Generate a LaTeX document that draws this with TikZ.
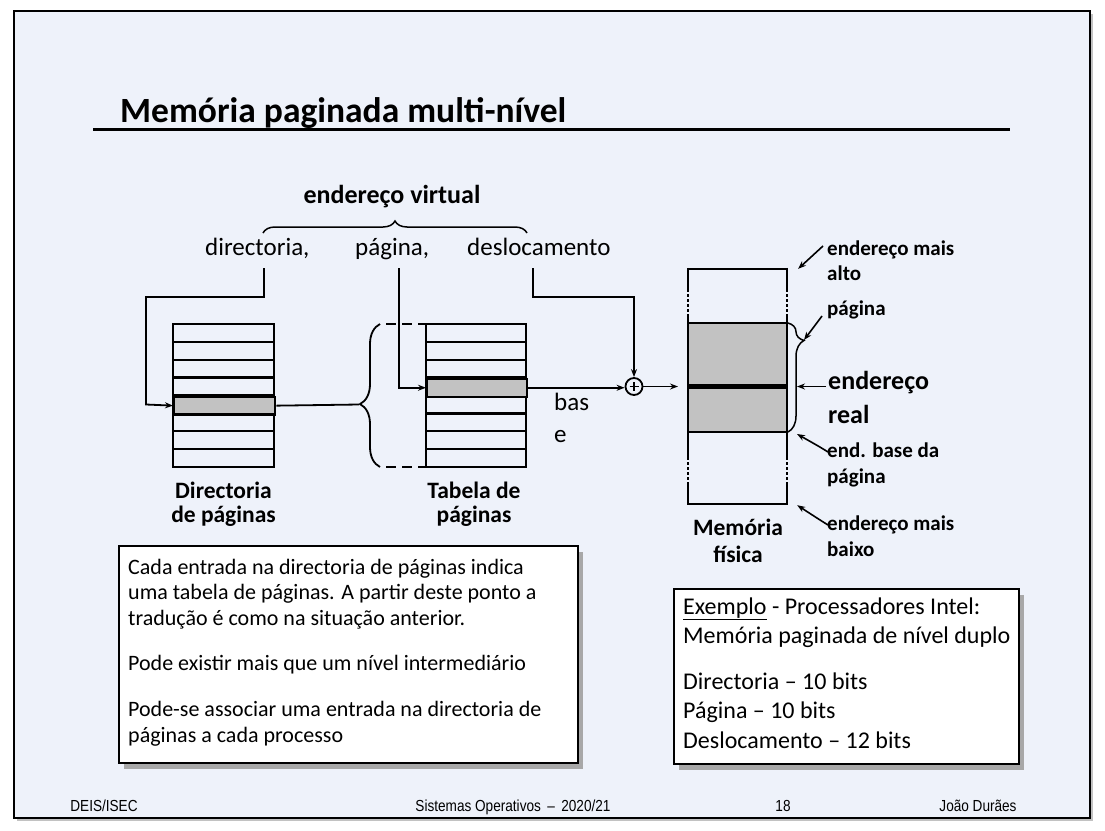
\documentclass[tikz,border=0pt]{standalone}
\usepackage{fontspec}
\setmainfont{Carlito}
\newfontfamily\footfont[FakeStretch=0.85]{Liberation Sans}
\usetikzlibrary{arrows.meta,decorations.pathreplacing,calc}
\definecolor{bgc}{HTML}{EEF2FA}
\definecolor{cellgray}{HTML}{C2C2C2}
\definecolor{shadowgray}{HTML}{A8A8A8}
\begin{document}
\begin{tikzpicture}[x=1pt,y=-1pt,
  tbl/.style={line width=2.4pt},
  conn/.style={line width=1.8pt},
  arr/.style={conn,-{Stealth[length=8pt,width=6pt]}},
  larr/.style={line width=1.6pt,-{Stealth[length=8pt,width=6pt]}},
  selrow/.style={draw,tbl,fill=cellgray,minimum width=101pt,minimum height=17.9pt,inner sep=0pt,anchor=north west},
  txt/.style={anchor=base west,inner sep=0pt,font=\fontsize{25}{30}\selectfont},
  captxt/.style={anchor=base,inner sep=0pt,font=\bfseries\fontsize{23.5}{28}\selectfont},
  lab/.style={anchor=base west,inner sep=0pt,font=\bfseries\fontsize{21}{24}\selectfont},
  body/.style={anchor=base west,inner sep=0pt,font=\fontsize{22}{25}\selectfont},
  bodyb/.style={anchor=base west,inner sep=0pt,font=\fontsize{24}{28}\selectfont},
  foot/.style={anchor=base,inner sep=0pt,font=\footfont\fontsize{16}{19}\selectfont},
  boxst/.style={draw,line width=2pt,fill=white}
]
\useasboundingbox (0,0) rectangle (1105,830);
\fill[white] (0,0) rectangle (1105,830);
% slide frame
\fill[shadowgray!70] (17,14) rectangle (1093,821);
\draw[line width=2.5pt,fill=bgc] (14,11) rectangle (1090,818);

% title
\node[anchor=base west,inner sep=0pt,font=\bfseries\fontsize{35.5}{40}\selectfont] (title) at (120,122) {Memória paginada multi-nível};
\draw[line width=3pt] (93,129) -- (1010,129);

% virtual address
\node[anchor=base,inner sep=0pt,font=\bfseries\fontsize{26}{30}\selectfont] (ev) at (392,203) {endereço virtual};
\draw[decorate,decoration={brace,amplitude=12pt},line width=1.5pt] (263,233) -- (527,233);
\node[txt] (dir) at (205,255) {directoria,};
\node[txt] (pag) at (355,255) {página,};
\node[txt] (des) at (467,255) {deslocamento};
\coordinate (d0) at (264,268);
\coordinate (p0) at (399,268);
\coordinate (s0) at (533,268);

% directory table
\draw[tbl] (173,324) rectangle (274,467);
\foreach \i in {1,...,7} \draw[tbl] (173,{324+\i*17.875}) -- (274,{324+\i*17.875});
\node[selrow] (dsel) at (173,395.5) {};
\node[captxt] (dcap1) at (223.5,498) {Directoria};
\node[captxt] (dcap2) at (223.5,522) {de páginas};

% page table
\draw[tbl] (426,324) rectangle (526,467);
\foreach \i in {1,...,7} \draw[tbl] (426,{324+\i*17.875}) -- (526,{324+\i*17.875});
\node[selrow,minimum width=100pt] (tsel) at (426,377.6) {};
\node[captxt] (tcap1) at (474,498) {Tabela de};
\node[captxt] (tcap2) at (474,522) {páginas};

% brace between
\coordinate (btip) at (359,404.5);
\draw[decorate,decoration={brace,amplitude=20pt,aspect=0.44},line width=1.8pt] (380,467) -- (380,324);
\draw[conn,dash pattern=on 10pt off 6pt] (386,324) -- (426,324);
\draw[conn,dash pattern=on 10pt off 6pt] (386,467) -- (426,467);

% connectors
\draw[arr] (d0) -- (264,297) -| (146,404.5) -- (dsel.west);
\draw[conn] (dsel.east) -- (btip);
\draw[arr] (p0) -- (p0 |- tsel.west) -- (tsel.west);

% adder
\node[circle,draw,conn,inner sep=0pt,minimum size=17pt] (plus) at (634,386.5) {};
\draw[line width=1.4pt] ($(plus.center)+(-4.5,0)$) -- ($(plus.center)+(4.5,0)$);
\draw[line width=1.4pt] ($(plus.center)+(0,-4.5)$) -- ($(plus.center)+(0,4.5)$);
\draw[arr] (tsel.east) -- (tsel.east -| plus.west);
\draw[arr] (s0) -- (533,297) -| (plus.north);
\node[txt] (bas1) at (554,410) {bas};
\node[txt] (bas2) at (554,442) {e};
\coordinate (memin) at (678,386.5);
\draw[arr] (plus.east) -- (memin);

% physical memory
\node[minimum width=99pt,minimum height=235pt,inner sep=0pt] (mem) at (737.5,386.5) {};
\fill[cellgray] (688,323) rectangle (787,432);
\draw[tbl] (688,323) -- (787,323);
\draw[tbl] (688,432) -- (787,432);
\draw[line width=5pt] (688,386.5) -- (787,386.5);
\draw[tbl] (mem.north west) -- (mem.north east);
\draw[tbl] (mem.south west) -- (mem.south east);
\foreach \x in {688,787}{
  \draw[tbl] (\x,267.8) -- (\x,289);
  \draw[tbl,dash pattern=on 2.5pt off 2.5pt] (\x,289) -- (\x,314);
  \draw[tbl] (\x,314) -- (\x,457);
  \draw[tbl,dash pattern=on 2.5pt off 2.5pt] (\x,457) -- (\x,485);
  \draw[tbl] (\x,485) -- (\x,505.2);
}
\draw[decorate,decoration={brace,amplitude=16pt,aspect=0.16},line width=1.5pt] (788,323) -- (788,432);
\coordinate (ptip) at (804,340);
\node[captxt] (mcap1) at (738,535) {Memória};
\node[captxt] (mcap2) at (738,562) {física};

% right labels
\node[lab] (hi1) at (827,255) {endereço mais};
\node[lab] (hi2) at (827,280) {alto};
\node[lab] (pg) at (827,315) {página};
\node[anchor=base west,inner sep=0pt,font=\bfseries\fontsize{26}{30}\selectfont] (re1) at (828,389) {endereço};
\node[anchor=base west,inner sep=0pt,font=\bfseries\fontsize{26}{30}\selectfont] (re2) at (828,423) {real};
\node[lab] (bs1) at (827,457) {end. base da};
\node[lab] (bs2) at (827,483) {página};
\node[lab] (lo1) at (827,530) {endereço mais};
\node[lab] (lo2) at (827,556) {baixo};
\coordinate (t1) at (823,246);
\coordinate (t2) at (822,316);
\coordinate (t3) at (826,386.5);
\coordinate (t4) at (828,452);
\coordinate (t5) at (828,525);
\draw[larr] (t1) -- ($(mem.north east)+(11,0)$);
\draw[larr] (t2) -- (ptip);
\draw[larr] (t3) -- (797,386.5);
\draw[larr] (t4) .. controls (820,447) .. (797,434);
\draw[larr] (t5) .. controls (820,520) .. ($(mem.south east)+(10,1)$);

% text box 1
\fill[shadowgray] (124,552) rectangle (583,769);
\node[boxst,minimum width=459pt,minimum height=217pt,anchor=north west] (box1) at (118,545) {};
\node[body] (b1) at (128,574) {Cada entrada na directoria de páginas indica};
\node[body] (b2) at (128,599) {uma tabela de páginas. A partir deste ponto a};
\node[body] (b3) at (128,625) {tradução é como na situação anterior.};
\node[body] (b4) at (128,670) {Pode existir mais que um nível intermediário};
\node[body] (b5) at (128,716) {Pode-se associar uma entrada na directoria de};
\node[body] (b6) at (128,742) {páginas a cada processo};

% text box 2
\fill[shadowgray] (679,595) rectangle (1024,770);
\node[boxst,minimum width=345pt,minimum height=175pt,anchor=north west] (box2) at (673,588) {};
\node[bodyb] (e1) at (683,614) {\underline{Exemplo} - Processadores Intel:};
\node[bodyb] (e2) at (683,643) {Memória paginada de nível duplo};
\node[bodyb] (e3) at (683,689) {Directoria – 10 bits};
\node[bodyb] (e4) at (683,718) {Página – 10 bits};
\node[bodyb] (e5) at (683,748) {Deslocamento – 12 bits};

% footer
\node[foot] (f1) at (104,811) {DEIS/ISEC};
\node[foot] (f2) at (513,811) {Sistemas Operativos \,–\, 2020/21};
\node[foot] (f3) at (783,811) {18};
\node[foot] (f4) at (978,811) {João Durães};
\end{tikzpicture}
\end{document}
